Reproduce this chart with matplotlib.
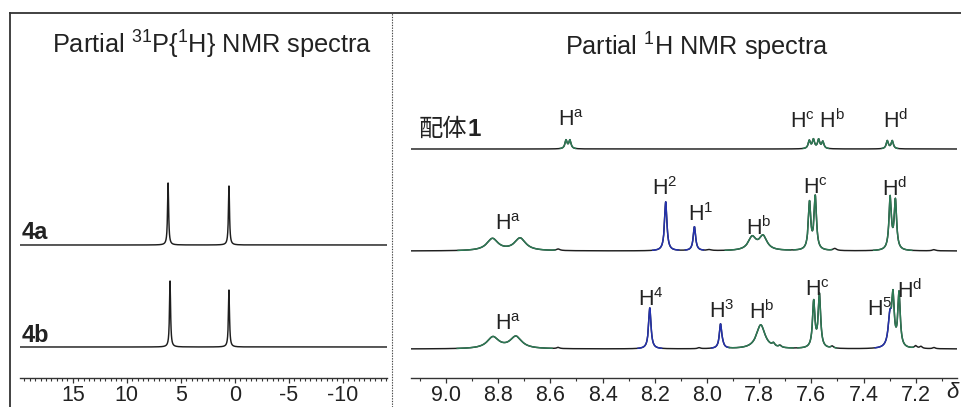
import numpy as np
import matplotlib
matplotlib.use("Agg")
import matplotlib.pyplot as plt
from matplotlib.lines import Line2D
from matplotlib.ticker import FixedLocator, MultipleLocator

plt.rcParams['font.family'] = ['Liberation Sans', 'Noto Sans CJK SC', 'DejaVu Sans']
plt.rcParams['mathtext.fontset'] = 'custom'
plt.rcParams['mathtext.rm'] = 'Liberation Sans'
plt.rcParams['mathtext.it'] = 'Liberation Sans:italic'
plt.rcParams['mathtext.bf'] = 'Liberation Sans:bold'

# ---------------- data ----------------
# 31P{1H} spectra: peak shifts (ppm), heights (a.u.), half-widths (ppm)
p31_names = ['4a', '4b']
p31_shifts = [[6.18, 0.54], [6.00, 0.54]]
p31_heights = [[62, 59], [66, 57]]
p31_hw = [0.06, 0.06]
p31_ticks = [15, 10, 5, 0, -5, -10]

# 1H spectra: groups (label, colour key, shifts, heights, half-width)
h_ticks = [9.0, 8.8, 8.6, 8.4, 8.2, 8.0, 7.8, 7.6, 7.4, 7.2]

lig_groups = [
    ('a', 'g', [8.540, 8.525], [8.5, 8.5], 0.005),
    ('cb', 'g', [7.608, 7.592, 7.572, 7.556], [8, 9, 9, 7], 0.005),
    ('d', 'g', [7.309, 7.290], [8, 8], 0.005),
]
h4a_groups = [
    ('a', 'g', [8.822, 8.716], [12, 12.5], 0.026),
    ('2', 'b', [8.158], [49], 0.0055),
    ('1', 'b', [8.048], [24], 0.0055),
    ('b', 'g', [7.827, 7.785], [13, 14], 0.018),
    ('c', 'g', [7.607, 7.585], [47, 53], 0.0055),
    ('d', 'g', [7.298, 7.278], [52, 49], 0.0055),
    ('', 'k', [8.57, 7.99, 7.51, 7.13], [1.5, 1.0, 2.0, 1.2], 0.008),
]
h4b_groups = [
    ('a', 'g', [8.820, 8.732], [11.5, 12], 0.027),
    ('4', 'b', [8.219], [41], 0.0055),
    ('3', 'b', [7.948], [24], 0.0055),
    ('b', 'g', [7.794], [24], 0.020),
    ('c', 'g', [7.591, 7.569], [46, 53], 0.0055),
    ('5', 'b', [7.299], [30], 0.008),
    ('d', 'g', [7.287, 7.264], [47, 54], 0.0055),
    ('', 'k', [8.57, 8.03, 7.94, 7.745, 7.72, 7.52, 7.20, 7.18, 7.13],
     [1.2, 1.0, 2.0, 3.0, 2.0, 2.0, 2.5, 2.0, 1.2], 0.006),
]

# ---------------- helpers ----------------
COL = {'g': '#2d7a55', 'b': '#2432b0', 'k': '#1e1e1e'}


def lorentz(x, c, h, w):
    return h / (1.0 + ((x - c) / w) ** 2)


def draw_spectrum(ax, x, groups, offset, lw=1.0):
    contribs = []
    for g in groups:
        s = np.zeros_like(x)
        for c, h in zip(g[2], g[3]):
            s += lorentz(x, c, h, g[4])
        contribs.append(s)
    total = np.sum(contribs, axis=0)
    y = total + offset
    ax.plot(x, y, color=COL['k'], lw=lw, solid_joinstyle='round')
    stack = np.vstack(contribs)
    dom = np.argmax(stack, axis=0)
    for i, g in enumerate(groups):
        if g[1] == 'k':
            continue
        mask = (dom == i) & (stack[i] > 0.6)
        m2 = mask.copy()
        m2[1:] |= mask[:-1]
        m2[:-1] |= mask[1:]
        ax.plot(x, np.where(m2, y, np.nan), color=COL[g[1]], lw=lw,
                solid_joinstyle='round')


W, H = 962, 407
fig = plt.figure(figsize=(W / 100, H / 100), dpi=100)


def fx(px):
    return px / W


def fy(py):
    return 1 - py / H


AX_Y = 378
TOP = 13

# ---------------- left panel ----------------
axL = fig.add_axes([fx(20), fy(AX_Y), fx(387) - fx(20), fy(TOP) - fy(AX_Y)])
axL.set_xlim(19.9, -14.1)
axL.set_ylim(0, AX_Y - TOP)
xl = np.linspace(-14.1, 19.9, 12000)
p31_offsets = [AX_Y - 245, AX_Y - 347]
for shifts, heights, hw, off in zip(p31_shifts, p31_heights, p31_hw, p31_offsets):
    grp = [('', 'k', shifts, heights, hw)]
    draw_spectrum(axL, xl, grp, off, lw=1.05)
axL.xaxis.set_major_locator(FixedLocator(p31_ticks))
axL.xaxis.set_minor_locator(MultipleLocator(0.5))
axL.set_xticklabels([str(t) for t in p31_ticks])

# ---------------- right panel ----------------
axR = fig.add_axes([fx(411), fy(AX_Y), fx(957) - fx(411), fy(TOP) - fy(AX_Y)])
axR.set_xlim(9.134, 7.042)
axR.set_ylim(0, AX_Y - TOP)
xr = np.linspace(7.042, 9.134, 8000)
h_offsets = [AX_Y - 149, AX_Y - 251, AX_Y - 349]
for grps, off in zip([lig_groups, h4a_groups, h4b_groups], h_offsets):
    draw_spectrum(axR, xr, grps, off, lw=1.05)
axR.xaxis.set_major_locator(FixedLocator(h_ticks))
axR.xaxis.set_minor_locator(MultipleLocator(0.1))
axR.set_xticklabels(['%.1f' % t for t in h_ticks])

for ax in (axL, axR):
    for s in ('top', 'left', 'right'):
        ax.spines[s].set_visible(False)
    ax.spines['bottom'].set_color('#333333')
    ax.spines['bottom'].set_linewidth(1.0)
    ax.set_yticks([])
    ax.tick_params(axis='x', which='major', direction='out', length=3.5,
                   width=0.9, color='#333333', labelsize=15.5, pad=1.5,
                   labelcolor='#222222')
    ax.tick_params(axis='x', which='minor', direction='out', length=2.2,
                   width=0.8, color='#333333')
    ax.patch.set_alpha(0)

# delta label at right end of axis
fig.text(fx(953), fy(393), r'$\delta$', ha='center', va='center', fontsize=16,
         color='#222222')

# ---------------- texts ----------------
fig.text(fx(212), fy(45), r'Partial $^{31}$P{$^{1}$H} NMR spectra', ha='center',
         va='center', fontsize=18.3, color='#222222')
fig.text(fx(697), fy(47), r'Partial $^{1}$H NMR spectra', ha='center',
         va='center', fontsize=18.2, color='#222222')
fig.text(fx(22), fy(232), '4a', ha='left', va='center', fontsize=17,
         fontweight='bold', color='#222222')
fig.text(fx(22), fy(335), '4b', ha='left', va='center', fontsize=17,
         fontweight='bold', color='#222222')
lig_txt = fig.text(fx(419), fy(129), '配体', ha='left', va='center', fontsize=17.5,
                   color='#222222', family=['Noto Sans CJK SC', 'DejaVu Sans'])
axR.annotate('1', xy=(1.0, 0.5), xycoords=lig_txt, ha='left', va='center',
             fontsize=17.5, fontweight='bold', color='#222222',
             annotation_clip=False)

# proton labels: (text, ppm, y in data units)
h_labels = [
    (r'H$^{\mathrm{a}}$', 8.521, AX_Y - 121),
    (r'H$^{\mathrm{c}}$ H$^{\mathrm{b}}$', 7.574, AX_Y - 121),
    (r'H$^{\mathrm{d}}$', 7.279, AX_Y - 121),
    (r'H$^{2}$', 8.162, AX_Y - 189),
    (r'H$^{\mathrm{c}}$', 7.584, AX_Y - 189),
    (r'H$^{\mathrm{d}}$', 7.280, AX_Y - 189),
    (r'H$^{\mathrm{a}}$', 8.764, AX_Y - 224),
    (r'H$^{1}$', 8.023, AX_Y - 215),
    (r'H$^{\mathrm{b}}$', 7.801, AX_Y - 228),
    (r'H$^{\mathrm{a}}$', 8.764, AX_Y - 324),
    (r'H$^{4}$', 8.215, AX_Y - 300),
    (r'H$^{3}$', 7.945, AX_Y - 312),
    (r'H$^{\mathrm{b}}$', 7.790, AX_Y - 312),
    (r'H$^{\mathrm{c}}$', 7.577, AX_Y - 290),
    (r'H$^{5}$', 7.338, AX_Y - 310),
    (r'H$^{\mathrm{d}}$', 7.224, AX_Y - 291),
]
for t, xv, yv in h_labels:
    axR.text(xv, yv, t, ha='center', va='center', fontsize=15.5,
             color='#222222', clip_on=False)

# ---------------- frame lines ----------------
fig.add_artist(Line2D([fx(10), 1], [fy(TOP), fy(TOP)], transform=fig.transFigure,
                      color='#333333', lw=1.3))
fig.add_artist(Line2D([fx(10), fx(10)], [0, fy(TOP)], transform=fig.transFigure,
                      color='#333333', lw=1.3))
fig.add_artist(Line2D([fx(392), fx(392)], [0, fy(TOP)], transform=fig.transFigure,
                      color='#444444', lw=0.8, linestyle=(0, (1.2, 1.2))))

fig.savefig('out.png', dpi=100)
